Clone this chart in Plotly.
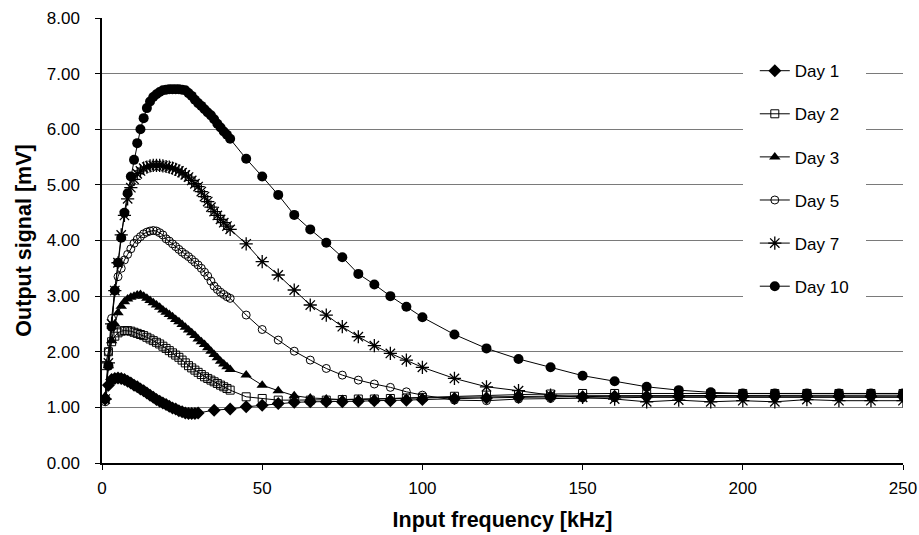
import plotly.graph_objects as go

# Frequencies (kHz)
freq_a = list(range(1, 41)) + list(range(45, 101, 5)) + list(range(110, 251, 10))
freq_day1 = list(range(1, 31)) + list(range(35, 101, 5)) + list(range(110, 251, 10))

day1 = [1.15, 1.40, 1.50, 1.52, 1.53, 1.52, 1.50, 1.47, 1.44, 1.40,
        1.37, 1.33, 1.30, 1.26, 1.22, 1.18, 1.14, 1.11, 1.08, 1.05,
        1.02, 0.99, 0.97, 0.94, 0.92, 0.90, 0.89, 0.89, 0.89, 0.90,
        0.95, 0.97, 1.01, 1.04, 1.07, 1.09, 1.10, 1.10, 1.10, 1.11,
        1.12, 1.12, 1.13, 1.14,
        1.16, 1.17, 1.18, 1.19, 1.19, 1.20, 1.20, 1.20, 1.20, 1.20,
        1.20, 1.20, 1.20, 1.20, 1.20]

day2 = [1.75, 2.00, 2.18, 2.28, 2.34, 2.37, 2.38, 2.38, 2.37, 2.35,
        2.33, 2.31, 2.29, 2.26, 2.23, 2.20, 2.17, 2.14, 2.10, 2.06,
        2.02, 1.98, 1.94, 1.90, 1.85, 1.80, 1.75, 1.71, 1.67, 1.63,
        1.59, 1.55, 1.52, 1.49, 1.46, 1.43, 1.40, 1.37, 1.34, 1.31,
        1.19, 1.16, 1.13, 1.13, 1.13, 1.13, 1.14, 1.15, 1.15, 1.16,
        1.17, 1.18,
        1.20, 1.22, 1.23, 1.24, 1.25, 1.25, 1.25, 1.25, 1.25, 1.25,
        1.25, 1.25, 1.25, 1.25, 1.25]

day3 = [1.20, 1.75, 2.20, 2.50, 2.70, 2.82, 2.90, 2.95, 2.98, 3.00,
        3.02, 3.03, 3.00, 2.96, 2.92, 2.88, 2.84, 2.80, 2.75, 2.71,
        2.67, 2.63, 2.58, 2.54, 2.49, 2.44, 2.39, 2.34, 2.29, 2.23,
        2.18, 2.13, 2.07, 2.01, 1.95, 1.89, 1.83, 1.78, 1.73, 1.68,
        1.58, 1.40, 1.30, 1.21, 1.17, 1.15, 1.14, 1.14, 1.15, 1.15,
        1.16, 1.17,
        1.18, 1.19, 1.20, 1.20, 1.21, 1.21, 1.21, 1.22, 1.22, 1.22,
        1.22, 1.22, 1.22, 1.22, 1.22]

day5 = [1.10, 2.00, 2.60, 3.10, 3.35, 3.50, 3.65, 3.75, 3.85, 3.95,
        4.02, 4.07, 4.12, 4.15, 4.17, 4.18, 4.17, 4.14, 4.10, 4.03,
        3.99, 3.94, 3.89, 3.84, 3.79, 3.75, 3.71, 3.66, 3.61, 3.56,
        3.50, 3.43, 3.36, 3.27, 3.18, 3.12, 3.07, 3.03, 2.99, 2.96,
        2.66, 2.40, 2.21, 2.01, 1.85, 1.70, 1.58, 1.49, 1.42, 1.36,
        1.28, 1.22,
        1.13, 1.12, 1.15, 1.16, 1.17, 1.17, 1.18, 1.18, 1.18, 1.18,
        1.18, 1.18, 1.18, 1.18, 1.18]

day7 = [1.15, 1.80, 2.50, 3.10, 3.60, 4.10, 4.45, 4.75, 4.95, 5.10,
        5.20, 5.25, 5.30, 5.32, 5.34, 5.35, 5.35, 5.35, 5.34, 5.33,
        5.32, 5.30, 5.28, 5.25, 5.22, 5.18, 5.14, 5.08, 5.02, 4.97,
        4.88, 4.79, 4.70, 4.60, 4.52, 4.45, 4.38, 4.32, 4.26, 4.20,
        3.94, 3.62, 3.38, 3.11, 2.84, 2.66, 2.45, 2.27, 2.11, 1.97,
        1.85, 1.72,
        1.52, 1.37, 1.30, 1.22, 1.18, 1.15, 1.10, 1.13, 1.10, 1.12,
        1.10, 1.14, 1.12, 1.12, 1.12]

day10 = [1.15, 1.75, 2.45, 3.10, 3.60, 4.05, 4.50, 4.85, 5.15, 5.45,
         5.75, 6.00, 6.20, 6.38, 6.50, 6.58, 6.63, 6.67, 6.70, 6.71,
         6.72, 6.72, 6.72, 6.72, 6.71, 6.70, 6.65, 6.60, 6.53, 6.47,
         6.42, 6.36, 6.30, 6.25, 6.18, 6.10, 6.03, 5.96, 5.90, 5.83,
         5.47, 5.15, 4.82, 4.46, 4.20, 3.96, 3.70, 3.40, 3.21, 3.00,
         2.81, 2.62,
         2.31, 2.06, 1.87, 1.72, 1.57, 1.47, 1.37, 1.31, 1.27, 1.25,
         1.25, 1.25, 1.25, 1.25, 1.25]

series = [
    ("Day 1", freq_day1, day1, dict(symbol="diamond", size=10, color="black")),
    ("Day 2", freq_a, day2, dict(symbol="square-open", size=8, color="black", line=dict(width=1, color="black"))),
    ("Day 3", freq_a, day3, dict(symbol="triangle-up", size=10, color="black")),
    ("Day 5", freq_a, day5, dict(symbol="circle-open", size=8, color="black", line=dict(width=1, color="black"))),
    ("Day 7", freq_a, day7, dict(symbol="asterisk-open", size=11, color="black", line=dict(width=1.3, color="black"))),
    ("Day 10", freq_a, day10, dict(symbol="circle", size=10, color="black")),
]

fig = go.Figure()
for name, xs, ys, mk in series:
    fig.add_trace(go.Scatter(
        x=xs, y=ys, name=name, mode="lines+markers", legendgroup=name,
        line=dict(color="black", width=1), marker=mk,
    ))

font_family = "Liberation Sans, Arial, sans-serif"
fig.update_layout(
    width=919, height=535,
    margin=dict(l=102, r=16, t=18, b=72, autoexpand=False),
    paper_bgcolor="white", plot_bgcolor="white",
    font=dict(family=font_family, size=17, color="black"),
    showlegend=True,
    legend=dict(
        x=0.80, y=0.948, xanchor="left", yanchor="top",
        bgcolor="white", bordercolor="white", borderwidth=12,
        tracegroupgap=18, font=dict(size=17), itemwidth=30,
    ),
    xaxis=dict(
        range=[0, 250], tickmode="linear", tick0=0, dtick=50,
        showline=True, linecolor="black", linewidth=1.5,
        ticks="outside", ticklen=5, tickcolor="black",
        showgrid=False, zeroline=False, ticklabeloverflow="allow",
        ticklabelstandoff=4, automargin=False,
        title=dict(text="<b>Input frequency [kHz]</b>", font=dict(size=21.5), standoff=15),
    ),
    yaxis=dict(
        range=[0, 8], tickmode="linear", tick0=0, dtick=1, tickformat=".2f",
        showline=True, linecolor="black", linewidth=1.5,
        ticks="outside", ticklen=5, tickcolor="black",
        showgrid=True, gridcolor="#7a7a7a", gridwidth=1, zeroline=False,
        ticklabelstandoff=12, automargin=False,
        title=dict(text="<b>Output signal [mV]</b>", font=dict(size=21.5), standoff=9),
    ),
)

fig.write_html("out.html")
